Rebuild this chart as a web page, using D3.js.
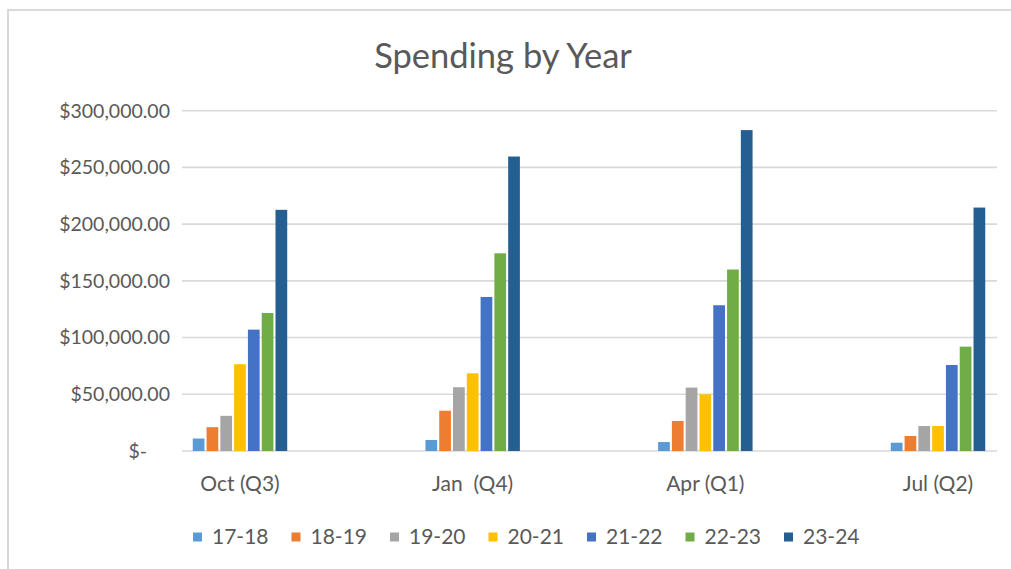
<!DOCTYPE html>
<html>
<head>
<meta charset="utf-8">
<script src="https://cdn.jsdelivr.net/npm/d3@7"></script>
<style>
  html, body { margin: 0; padding: 0; background: #ffffff; }
  svg { display: block; }
  text { font-family: Lato, "Open Sans", sans-serif; fill: #595959; }
</style>
</head>
<body>
<svg id="chart" width="1011" height="569"></svg>
<script>
const categories = ["Oct (Q3)", "Jan  (Q4)", "Apr (Q1)", "Jul (Q2)"];
const seriesNames = ["17-18", "18-19", "19-20", "20-21", "21-22", "22-23", "23-24"];
const seriesColors = ["#5B9BD5", "#ED7D31", "#A5A5A5", "#FFC000", "#4472C4", "#70AD47", "#255E91"];
// values per series, in category order (Oct, Jan, Apr, Jul)
const s1718 = [11000, 9700, 7900, 7300];
const s1819 = [21000, 35500, 26500, 13200];
const s1920 = [31000, 56200, 55900, 22000];
const s2021 = [76500, 68500, 50000, 22000];
const s2122 = [107000, 135800, 128500, 75800];
const s2223 = [121700, 174300, 160000, 92000];
const s2324 = [212600, 259600, 282900, 214600];
const seriesValues = [s1718, s1819, s1920, s2021, s2122, s2223, s2324];
const yTicks = [0, 50000, 100000, 150000, 200000, 250000, 300000];
const title = "Spending by Year";

const svg = d3.select("#chart");

// outer chart frame
svg.append("rect")
  .attr("x", 8).attr("y", 10)
  .attr("width", 1020).attr("height", 580)
  .attr("fill", "#ffffff")
  .attr("stroke", "#d9d9d9").attr("stroke-width", 2);

const plotLeft = 182, plotRight = 997;
const y = d3.scaleLinear().domain([0, 300000]).range([451, 110.7]);

const x0 = d3.scaleBand().domain(categories)
  .range([123.65, 1054.35]).paddingInner(0.594).paddingOuter(0.297);
const x1 = d3.scaleBand().domain(seriesNames)
  .range([0, x0.bandwidth()]).paddingInner(0.15);

// gridlines
svg.append("g").selectAll("line").data(yTicks).join("line")
  .attr("x1", plotLeft).attr("x2", plotRight)
  .attr("y1", d => y(d)).attr("y2", d => y(d))
  .attr("stroke", "#d9d9d9").attr("stroke-width", 1.6);

// y labels
const fmt = d3.format(",.2f");
svg.append("g").selectAll("text").data(yTicks).join("text")
  .attr("x", d => d === 0 ? 147 : 170)
  .attr("y", d => y(d))
  .attr("dy", "0.35em")
  .attr("text-anchor", "end")
  .style("font-size", "19.5px")
  .text(d => d === 0 ? "$-" : "$" + fmt(d));

// bars
const groups = svg.append("g").selectAll("g").data(categories).join("g")
  .attr("transform", d => `translate(${x0(d)},0)`);
groups.selectAll("rect")
  .data((c, ci) => seriesNames.map((s, si) => ({ s, si, v: seriesValues[si][ci] })))
  .join("rect")
  .attr("x", d => x1(d.s))
  .attr("width", x1.bandwidth())
  .attr("y", d => y(d.v))
  .attr("height", d => y(0) - y(d.v))
  .attr("fill", d => seriesColors[d.si]);

// x labels
svg.append("g").selectAll("text").data(categories).join("text")
  .attr("x", d => x0(d) + x0.bandwidth() / 2)
  .attr("y", 484)
  .attr("dy", "0.35em")
  .attr("text-anchor", "middle")
  .attr("xml:space", "preserve")
  .style("white-space", "pre")
  .style("font-size", "21px")
  .text(d => d);

// title
svg.append("text")
  .attr("x", 503).attr("y", 68)
  .attr("text-anchor", "middle")
  .style("font-size", "34.5px")
  .text(title);

// legend
const legStep = 98.5, legStart = 193;
const leg = svg.append("g").selectAll("g").data(seriesNames).join("g")
  .attr("transform", (d, i) => `translate(${legStart + i * legStep},537)`);
leg.append("rect")
  .attr("x", 0).attr("y", -4.5).attr("width", 9).attr("height", 9)
  .attr("fill", (d, i) => seriesColors[i]);
leg.append("text")
  .attr("x", 19).attr("y", 0).attr("dy", "0.35em")
  .style("font-size", "21px")
  .text(d => d);
</script>
</body>
</html>
